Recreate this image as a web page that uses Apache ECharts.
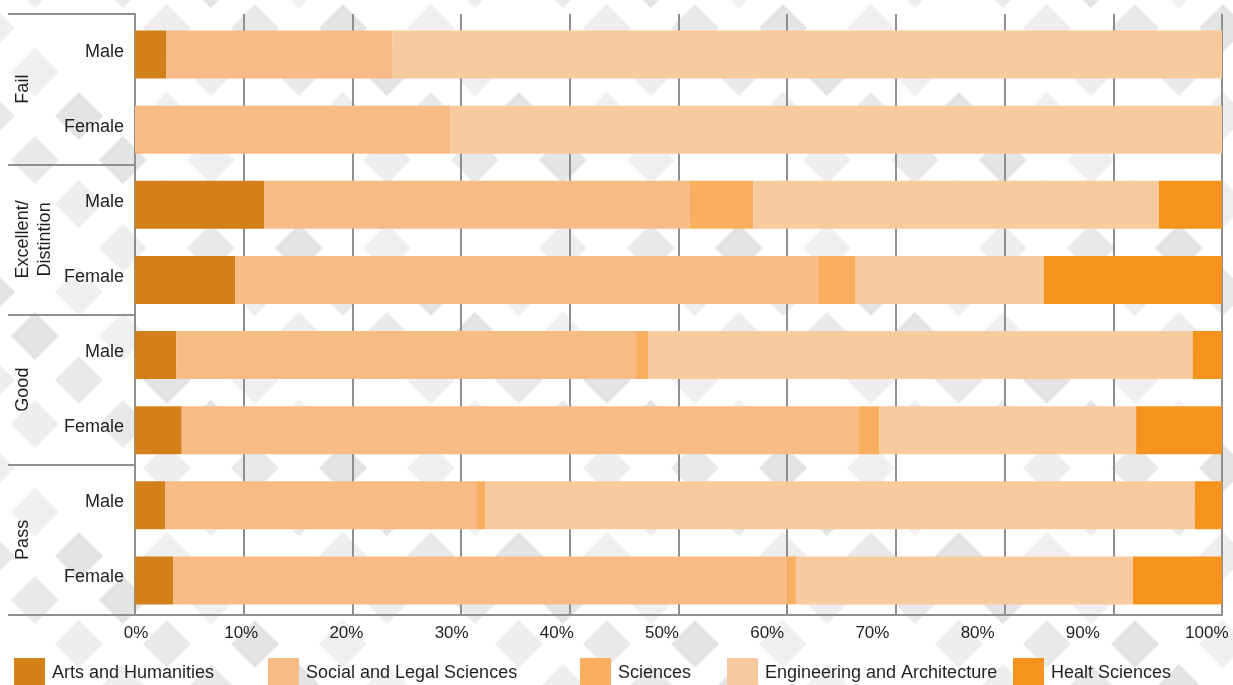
<!DOCTYPE html>
<html>
<head>
<meta charset="utf-8">
<script src="https://cdn.jsdelivr.net/npm/echarts@6/dist/echarts.min.js"></script>
<style>
  html, body { margin: 0; padding: 0; background: #fff; }
  #chart { width: 1233px; height: 685px; }
</style>
</head>
<body>
<div id="chart"></div>
<script>
// ---- Data (percent of students) ----
const rows = ['Fail|Male', 'Fail|Female', 'Exc|Male', 'Exc|Female', 'Good|Male', 'Good|Female', 'Pass|Male', 'Pass|Female'];
const groups = ['Fail', 'Excellent/\nDistintion', 'Good', 'Pass'];
const seriesNames = ['Arts and Humanities', 'Social and Legal Sciences', 'Sciences', 'Engineering and Architecture', 'Healt Sciences'];
const arts        = [2.9, 0.0, 11.9, 9.2, 3.8, 4.3, 2.8, 3.5];
const social      = [20.8, 29.0, 39.1, 53.6, 42.3, 62.3, 28.6, 56.5];
const sciences    = [0.0, 0.0, 5.9, 3.5, 1.1, 1.9, 0.8, 0.8];
const engineering = [76.3, 71.0, 37.3, 17.3, 50.1, 23.6, 65.3, 31.0];
const health      = [0.0, 0.0, 5.8, 16.4, 2.7, 7.9, 2.5, 8.2];
const xTicks = [0, 10, 20, 30, 40, 50, 60, 70, 80, 90, 100];

// ---- Layout / style ----
// where the tick label texts sit along the axis (the source places them slightly off the grid lines)
const tickLabelPos = [0.09, 9.77, 19.45, 29.13, 38.8, 48.48, 58.16, 67.84, 77.52, 87.2, 98.6];
const colors = ['#D4801A', '#F8BB86', '#F9AF5F', '#FACA9F', '#F5931F'];
const values = [arts, social, sciences, engineering, health];
const legendLeft = [14, 268, 580, 727, 1013];

// decorative diamond background
function makePattern() {
  const c = document.createElement('canvas');
  c.width = 1233; c.height = 685;
  const g = c.getContext('2d');
  g.fillStyle = '#ffffff';
  g.fillRect(0, 0, c.width, c.height);
  const shades = ['#f0f0f0', '#e8e9e9', null, '#e3e4e4', '#eeeeee'];
  for (let k = -2; k < 17; k++) {
    const y = 72 + 44 * k;
    for (let i = -1; i < 16; i++) {
      const x = 35 + 44 * (k & 1) + 88 * i;
      const idx = (((i * 2 + k * 3) % 5) + 5) % 5;
      if (!shades[idx]) continue;
      const h = 24;
      g.fillStyle = shades[idx];
      g.beginPath();
      g.moveTo(x, y - h); g.lineTo(x + h, y); g.lineTo(x, y + h); g.lineTo(x - h, y);
      g.closePath(); g.fill();
    }
  }
  return c;
}

const font = "'Liberation Sans', Arial, sans-serif";
const textColor = '#231f20';
const lineColor = '#8f8f8f';

const chart = echarts.init(document.getElementById('chart'), null, { renderer: 'canvas' });

const option = {
  backgroundColor: '#ffffff',
  animation: false,
  textStyle: { fontFamily: font },
  graphic: [{
    type: 'image', left: 0, top: 0, z: -100, silent: true,
    style: { image: makePattern(), width: 1233, height: 685 }
  }],
  grid: [
    { left: 135, right: 11, top: 14, bottom: 70, containLabel: false, outerBoundsMode: 'none' },
    { left: 135, right: 11, top: 17, bottom: 67, containLabel: false, outerBoundsMode: 'none' }
  ],
  xAxis: [{
    gridIndex: 0, type: 'value', min: 0, max: 100, interval: 10,
    axisLine: { show: true, lineStyle: { color: lineColor, width: 2 } },
    axisTick: { show: false },
    splitLine: { show: true, lineStyle: { color: lineColor, width: 2 } },
    axisLabel: { show: false }
  }, {
    // tick-label carrier, same scale as the main axis
    gridIndex: 0, type: 'value', min: 0, max: 100, position: 'bottom',
    axisLine: { show: false }, axisTick: { show: false }, splitLine: { show: false },
    axisLabel: {
      customValues: tickLabelPos,
      margin: 10, fontSize: 17, color: textColor, fontFamily: font,
      formatter: function (v) {
        let best = 0;
        for (let i = 1; i < tickLabelPos.length; i++) {
          if (Math.abs(tickLabelPos[i] - v) < Math.abs(tickLabelPos[best] - v)) best = i;
        }
        return xTicks[best] + '%';
      }
    }
  }, {
    // bar scale
    gridIndex: 1, type: 'value', min: 0, max: 100, show: false
  }],
  yAxis: [{
    gridIndex: 0, type: 'category', data: rows, inverse: true,
    axisLine: { show: true, lineStyle: { color: lineColor, width: 2 } },
    axisTick: { show: false },
    axisLabel: {
      margin: 11, fontSize: 18, color: textColor, fontFamily: font,
      formatter: function (v) { return v.split('|')[1]; }
    }
  }, {
    gridIndex: 0, type: 'category', data: groups, inverse: true, position: 'left',
    axisLine: { show: false },
    axisTick: { show: true, length: 127, lineStyle: { color: lineColor, width: 2 } },
    axisLabel: {
      rotate: 90, margin: 123, fontSize: 18, lineHeight: 22,
      color: textColor, fontFamily: font, verticalAlign: 'top', align: 'center'
    }
  }, {
    gridIndex: 1, type: 'category', data: rows, inverse: true, show: false
  }],
  legend: seriesNames.map(function (n, i) {
    return {
      data: [n], left: legendLeft[i], top: 658, padding: 0,
      itemWidth: 31, itemHeight: 31, icon: 'rect',
      textStyle: { fontSize: 18, color: textColor, fontFamily: font, padding: [0, 0, 0, 2] }
    };
  }),
  series: seriesNames.map(function (n, i) {
    return {
      name: n, type: 'bar', stack: 'total', barWidth: 48,
      xAxisIndex: 2, yAxisIndex: 2,
      itemStyle: { color: colors[i] },
      emphasis: { disabled: true },
      data: values[i]
    };
  })
};

chart.setOption(option);
</script>
</body>
</html>
